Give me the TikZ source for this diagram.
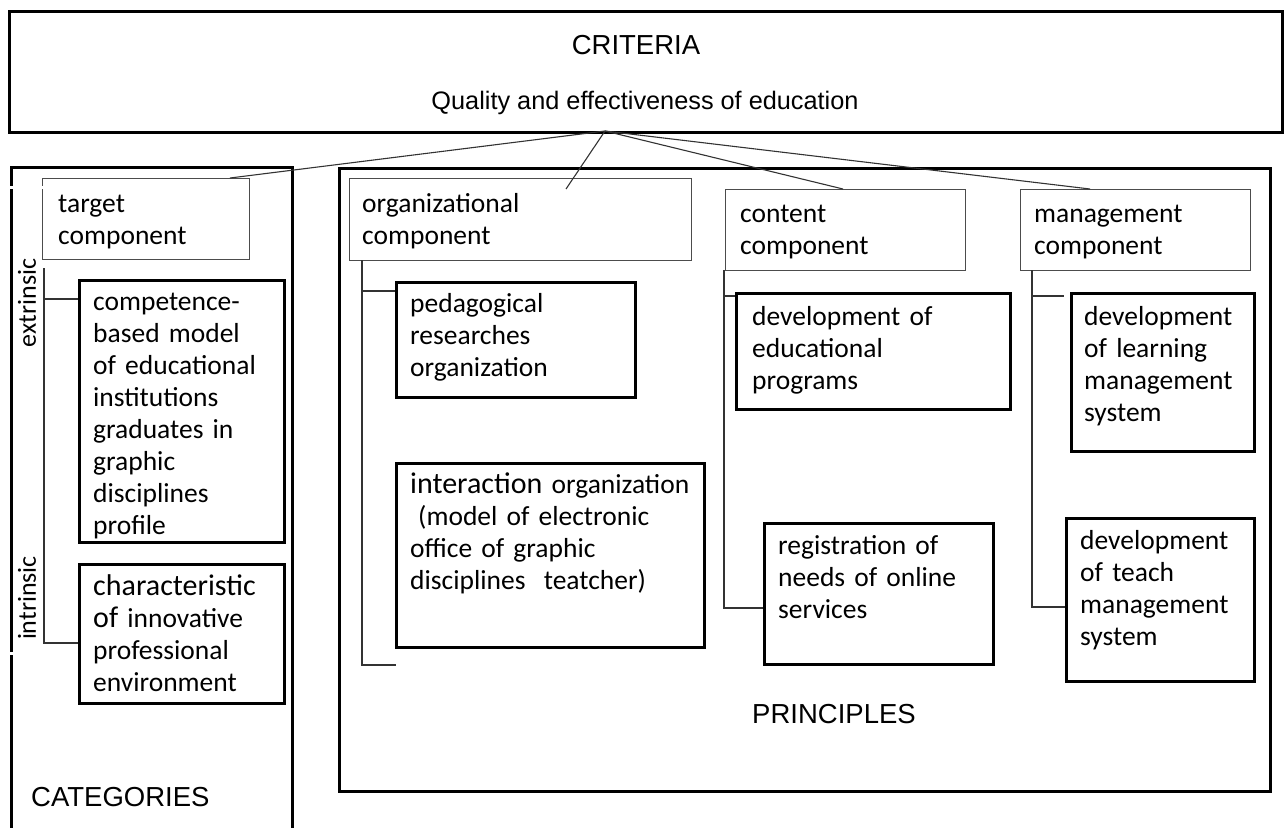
\documentclass[tikz,border=0pt]{standalone}
\usepackage{fontspec}
\setmainfont{Carlito}
\newfontfamily\arialf{Liberation Sans}
\usetikzlibrary{calc}
\begin{document}
\begin{tikzpicture}[x=1pt,y=-1pt,
  outerbox/.style={draw, line width=3pt, inner sep=0pt, anchor=north west},
  boldbox/.style={draw, line width=2.6pt, inner sep=0pt, anchor=north west},
  thinbox/.style={draw=black!70, line width=1.2pt, inner sep=0pt, anchor=north west},
  conn/.style={draw=black!80, line width=1.1pt},
  body/.style={font=\fontsize{27.5}{32}\selectfont, inner sep=0pt, align=left, anchor=base west, text width=#1},
  head/.style={font=\arialf\fontsize{27.5}{30}\selectfont, inner sep=0pt, anchor=base west},
  vlabel/.style={font=\fontsize{26}{30}\selectfont, inner sep=0pt, rotate=90}]
\useasboundingbox (0,0) rectangle (1287,827);

% criteria
\node[outerbox, minimum width=1273pt, minimum height=121pt] (crit) at (8,10) {};
\node[head, anchor=base] (tcrit) at (636,54) {CRITERIA};
\node[head, anchor=base, font=\arialf\fontsize{25.3}{30}\selectfont] (tqual) at (645,109) {Quality and effectiveness of education};

% categories
\node[outerbox, minimum width=281pt, minimum height=690pt] (cat) at (10,166) {};
\node[thinbox, minimum width=207pt, minimum height=81pt] (target) at (42,178) {};
\node[body=190pt] (ttarget) at ($(target.north west)+(16,34)$) {target\\component};
\node[boldbox, minimum width=205pt, minimum height=262pt] (comp) at (78,279) {};
\node[body=190pt] (tcomp) at ($(comp.north west)+(15,31)$) {competence-\\based model\\of educational\\institutions\\graduates in\\graphic\\disciplines\\profile};
\node[boldbox, minimum width=205pt, minimum height=139pt] (charx) at (78,563) {};
\node[body=200pt] (tcharx) at ($(charx.north west)+(15,32)$) {{\fontsize{30}{32}\selectfont characteristic}\\{\fontsize{30}{32}\selectfont of} innovative\\professional\\environment};
\node[vlabel] (extr) at (27,303) {extrinsic};
\node[vlabel] (intr) at (27,598) {intrinsic};
\coordinate (catTop) at (44,268);
\coordinate (catBot) at (44,643);
\draw[conn] (catTop) -- (catBot) -- (catBot -| charx.west);
\draw[conn] (catTop |- 0,299) -- (comp.west |- 0,299);
\node[head] (tcat) at (31,806) {CATEGORIES};
% small breaks in the left border
\fill[white] (4,186) rectangle (48,189);
\fill[white] (4,652) rectangle (16,655);

% principles
\node[outerbox, minimum width=931pt, minimum height=623pt] (prin) at (338,167) {};
\node[head] (tprin) at (752,723) {PRINCIPLES};

\node[thinbox, minimum width=342pt, minimum height=82pt] (org) at (349,178) {};
\node[body=320pt] (torg) at ($(org.north west)+(13,34)$) {organizational\\component};
\node[thinbox, minimum width=240pt, minimum height=81pt] (cont) at (725,189) {};
\node[body=220pt] (tcont) at ($(cont.north west)+(15,33)$) {content\\component};
\node[thinbox, minimum width=230pt, minimum height=81pt] (mgmt) at (1020,189) {};
\node[body=220pt] (tmgmt) at ($(mgmt.north west)+(14,33)$) {management\\component};

% organizational branch
\node[boldbox, minimum width=239pt, minimum height=115pt] (ped) at (395,281) {};
\node[body=220pt] (tped) at ($(ped.north west)+(15,31)$) {pedagogical\\researches\\organization};
\node[boldbox, minimum width=308pt, minimum height=184pt] (inter) at (395,462) {};
\node[body=300pt] (tinter) at ($(inter.north west)+(15,31)$) {{\fontsize{30}{32}\selectfont interaction} organization\\\hspace*{8pt}(model of electronic\\office of graphic\\disciplines\ \ teatcher)};
\coordinate (orgTop) at (362,260);
\coordinate (orgBot) at (362,665);
\draw[conn] (orgTop) -- (orgBot) -- ++(34,0);
\draw[conn] (orgTop |- 0,291) -- (ped.west |- 0,291);

% content branch
\node[boldbox, minimum width=274pt, minimum height=116pt] (deved) at (735,292) {};
\node[body=260pt] (tdeved) at ($(deved.north west)+(17,33)$) {development of\\educational\\programs};
\node[boldbox, minimum width=229pt, minimum height=141pt] (reg) at (763,522) {};
\node[body=220pt] (treg) at ($(reg.north west)+(15,32)$) {registration of\\needs of online\\services};
\coordinate (contTop) at (724,270);
\coordinate (contBot) at (724,608);
\draw[conn] (contTop) -- (contBot) -- (contBot -| reg.west);
\draw[conn] (contTop |- 0,296) -- (deved.west |- 0,296);

% management branch
\node[boldbox, minimum width=183pt, minimum height=158pt] (devlms) at (1070,292) {};
\node[body=180pt] (tdevlms) at ($(devlms.north west)+(14,33)$) {development\\of learning\\management\\system};
\node[boldbox, minimum width=188pt, minimum height=163pt] (devtms) at (1065,517) {};
\node[body=180pt] (tdevtms) at ($(devtms.north west)+(15,32)$) {development\\of teach\\management\\system};
\coordinate (mgTop) at (1032,270);
\coordinate (mgBot) at (1032,607);
\draw[conn] (mgTop) -- (mgBot) -- (mgBot -| devtms.west);
\draw[conn] (mgTop |- 0,296) -- (1064,296);

% connectors from criteria
\coordinate (hub) at (605,131);
\coordinate (orgEnd) at (566,189);
\draw[conn] (hub) -- ($(target.north west)+(188,0)$);
\draw[conn] (hub) -- (orgEnd);
\draw[conn] (hub) -- ($(cont.north west)+(118,0)$);
\draw[conn] (hub) -- ($(mgmt.north west)+(70,0)$);
\end{tikzpicture}
\end{document}
